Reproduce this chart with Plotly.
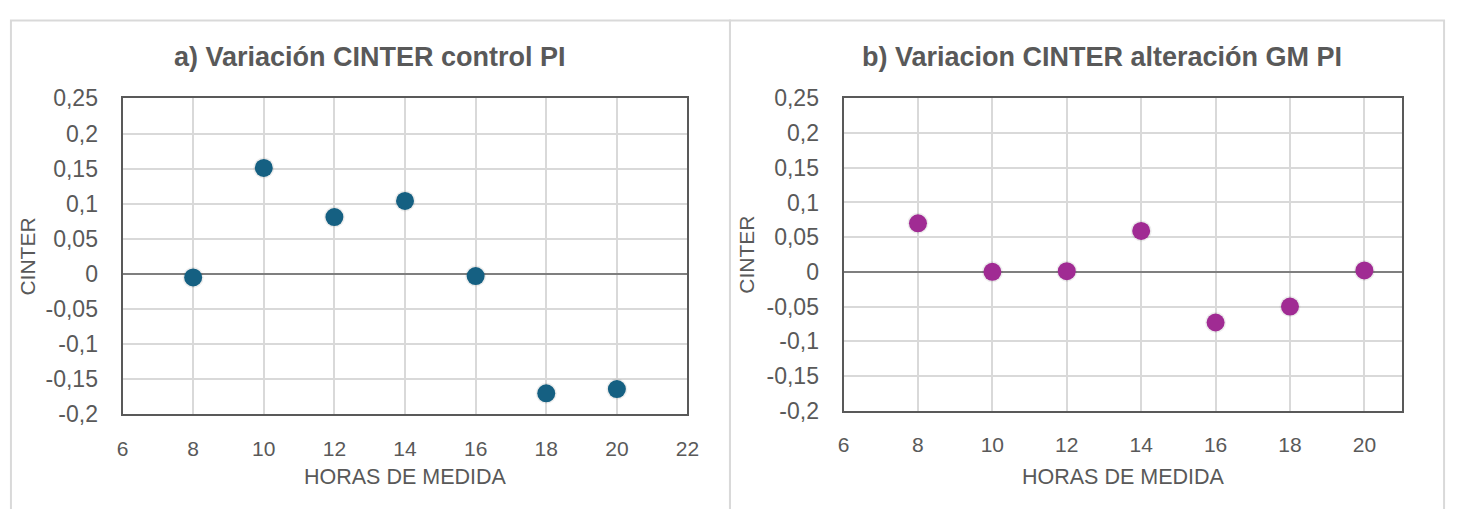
import plotly.graph_objects as go

# Measurement hours and CINTER variation for each panel
horas_a = [8, 10, 12, 14, 16, 18, 20]
cinter_control = [-0.005, 0.151, 0.081, 0.104, -0.003, -0.170, -0.164]

horas_b = [8, 10, 12, 14, 16, 18, 20]
cinter_gm = [0.070, 0.000, 0.001, 0.059, -0.073, -0.050, 0.002]

y_tickvals = [0.25, 0.2, 0.15, 0.1, 0.05, 0, -0.05, -0.1, -0.15, -0.2]
y_ticktext = ["0,25", "0,2", "0,15", "0,1", "0,05", "0", "-0,05", "-0,1", "-0,15", "-0,2"]
x_tickvals_a = [6, 8, 10, 12, 14, 16, 18, 20, 22]
x_tickvals_b = [6, 8, 10, 12, 14, 16, 18, 20]

titles = ["a) Variación CINTER control PI", "b) Variacion CINTER alteración GM PI"]
x_title = "HORAS DE MEDIDA"
y_title = "CINTER"

W, H = 1461, 509
TEXT = "#595959"
GRID = "#d9d9d9"
FRAME = "#595959"
COL_A = "#156082"
COL_B = "#a02b93"
SANS = "Liberation Sans, Arial, sans-serif"

fig = go.Figure()

def add_panel(fig, xs, ys, color, xa, ya):
    # faint halo acting as a drop shadow under each marker
    fig.add_trace(go.Scatter(
        x=xs, y=ys, mode="markers", xaxis=xa, yaxis=ya, hoverinfo="skip",
        marker=dict(size=21, color="rgba(0,0,0,0.07)", line=dict(width=0)),
        showlegend=False))
    fig.add_trace(go.Scatter(
        x=xs, y=ys, mode="markers", xaxis=xa, yaxis=ya,
        marker=dict(size=18, color=color, line=dict(width=0)),
        showlegend=False))

add_panel(fig, horas_a, cinter_control, COL_A, "x", "y")
add_panel(fig, horas_b, cinter_gm, COL_B, "x2", "y2")

def xaxis(domain, rng, vals, anchor):
    return dict(domain=domain, range=rng, tickvals=vals, ticktext=[str(v) for v in vals],
                showgrid=True, gridcolor=GRID, gridwidth=1.5, zeroline=False,
                showline=True, linecolor=FRAME, linewidth=2, mirror=True,
                ticks="", tickfont=dict(family=SANS, size=21, color=TEXT),
                ticklabelstandoff=14, anchor=anchor)

def yaxis(domain, anchor):
    return dict(domain=domain, range=[-0.2, 0.25], tickvals=y_tickvals, ticktext=y_ticktext,
                showgrid=True, gridcolor=GRID, gridwidth=1.5,
                zeroline=True, zerolinecolor="#7f7f7f", zerolinewidth=2,
                showline=True, linecolor=FRAME, linewidth=2, mirror=True,
                ticks="", tickfont=dict(family=SANS, size=23, color=TEXT),
                ticklabelstandoff=18, anchor=anchor)

fig.update_layout(
    width=W, height=H,
    margin=dict(l=0, r=0, t=0, b=0),
    paper_bgcolor="white", plot_bgcolor="white",
    xaxis=xaxis([118 / W, 690 / W], [6, 22], x_tickvals_a, "y"),
    yaxis=yaxis([1 - 423 / H, 1 - 90 / H], "x"),
    xaxis2=xaxis([848 / W, 1413 / W], [6, 21], x_tickvals_b, "y2"),
    yaxis2=yaxis([1 - 419 / H, 1 - 90 / H], "x2"),
    showlegend=False,
)

def px(x, y):
    return x / W, 1 - y / H

# Panel titles
for cx, t in zip([369, 1110], titles):
    ax, ay = px(cx, 46)
    fig.add_annotation(x=ax, y=ay, xref="paper", yref="paper", text="<b>" + t + "</b>",
                       showarrow=False, font=dict(family=SANS, size=27, color=TEXT),
                       xanchor="center", yanchor="middle")

# Axis titles
for cx in [404, 1131]:
    ax, ay = px(cx, 489)
    fig.add_annotation(x=ax, y=ay, xref="paper", yref="paper", text=x_title,
                       showarrow=False, font=dict(family=SANS, size=21.5, color=TEXT),
                       xanchor="center", yanchor="middle")
for cx, cy in [(22, 257), (750, 255)]:
    ax, ay = px(cx, cy)
    fig.add_annotation(x=ax, y=ay, xref="paper", yref="paper", text=y_title, textangle=-90,
                       showarrow=False, font=dict(family=SANS, size=21, color=TEXT),
                       xanchor="center", yanchor="middle")

# Chart-area frames
for x0, x1 in [(5, 733), (733, 1456)]:
    fig.add_shape(type="rect", xref="paper", yref="paper",
                  x0=x0 / W, x1=x1 / W, y0=-0.05, y1=1 - 8 / H,
                  line=dict(color="#d9d9d9", width=2), fillcolor="rgba(0,0,0,0)", layer="below")

fig.write_html("out.html")
